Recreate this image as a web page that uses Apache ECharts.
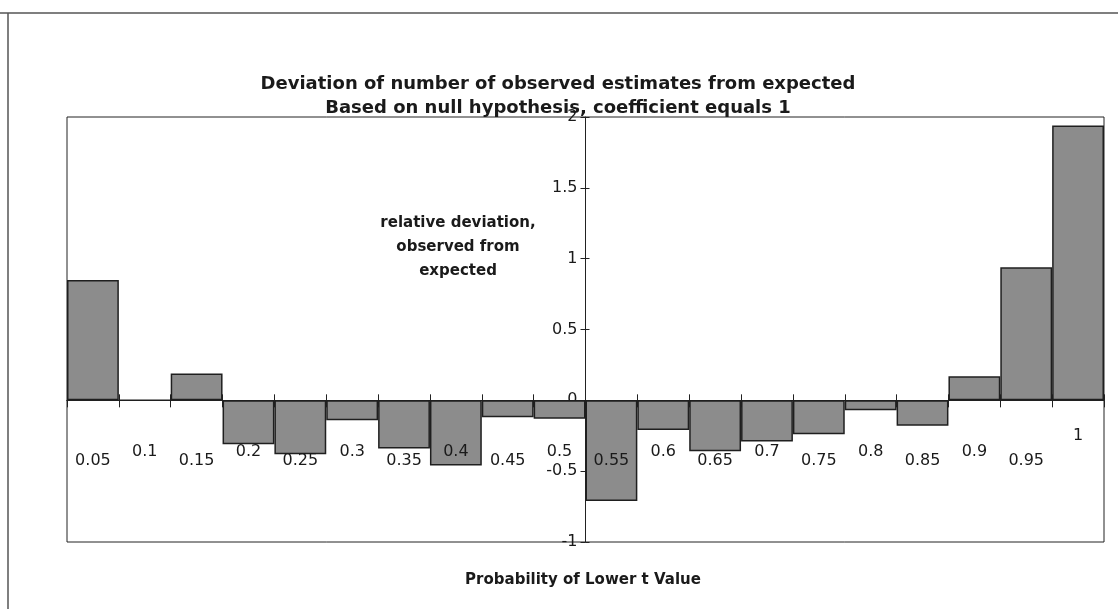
<!DOCTYPE html>
<html>
<head>
<meta charset="utf-8">
<script src="https://cdn.jsdelivr.net/npm/echarts@6/dist/echarts.min.js"></script>
<style>
html,body{margin:0;padding:0;background:#fff;}
#chart{width:1118px;height:609px;}
</style>
</head>
<body>
<div id="chart"></div>
<script>
const categories = ['0.05','0.1','0.15','0.2','0.25','0.3','0.35','0.4','0.45','0.5',
                    '0.55','0.6','0.65','0.7','0.75','0.8','0.85','0.9','0.95','1'];
const deviations = [0.85, 0, 0.19, -0.31, -0.38, -0.14, -0.34, -0.46, -0.12, -0.13,
                    -0.71, -0.21, -0.36, -0.29, -0.24, -0.07, -0.18, 0.17, 0.94, 1.94];
const yMin = -1, yMax = 2, yStep = 0.5;
const titleLines = ['Deviation of number of observed estimates from expected',
                    'Based on null hypothesis, coefficient equals 1'];
const yName = ['relative deviation,', 'observed from', 'expected'];
const xName = 'Probability of Lower t Value';

const FONT = '"DejaVu Sans", "Liberation Sans", Arial, sans-serif';
const chart = echarts.init(document.getElementById('chart'), null, {renderer: 'canvas'});

const gridLeft = 67, gridRight = 14, gridTop = 117, gridBottom = 67;
const gridW = 1118 - gridLeft - gridRight;
const axisShift = gridW / 2;

// category labels drawn at the zero line, staggered as in the source chart
const labelPoints = categories.map(function (c, i) {
  let dy = (i % 2 === 0) ? 61 : 52;
  if (i === categories.length - 1) dy = 36;
  return {value: [c, 0], label: {offset: [0, dy]}};
});

chart.setOption({
  animation: false,
  backgroundColor: '#fff',
  title: {
    text: titleLines.join('\n'),
    left: 553, top: 67, textAlign: 'center',
    textStyle: {fontFamily: FONT, fontSize: 18, fontWeight: 'bold', color: '#1a1a1a', lineHeight: 24}
  },
  grid: {left: gridLeft, right: gridRight, top: gridTop, bottom: gridBottom,
         show: true, borderColor: '#222', borderWidth: 1, backgroundColor: 'transparent'},
  xAxis: [{
    type: 'category', data: categories, position: 'bottom',
    axisLine: {onZero: true, onZeroAxisIndex: 0, lineStyle: {color: '#222', width: 1}},
    axisTick: {show: true, length: 7, lineStyle: {color: '#222'}},
    axisLabel: {show: false},
    splitLine: {show: false}
  }, {
    type: 'category', data: categories, position: 'top',
    axisLine: {onZero: true, onZeroAxisIndex: 1, lineStyle: {color: '#222', width: 1}},
    axisTick: {show: true, length: 6, lineStyle: {color: '#222'}},
    axisLabel: {show: false},
    splitLine: {show: false}
  }],
  yAxis: [{
    type: 'value', min: yMin, max: yMax, interval: yStep, position: 'left',
    offset: -axisShift,
    axisLine: {show: true, lineStyle: {color: '#222', width: 1}},
    axisTick: {show: true, length: 5, lineStyle: {color: '#222'}},
    axisLabel: {fontFamily: FONT, fontSize: 16, color: '#1a1a1a', margin: 8},
    splitLine: {show: false}
  }, {
    type: 'value', min: yMin, max: yMax, interval: yStep, position: 'right',
    offset: -(gridW - axisShift),
    axisLine: {show: false},
    axisTick: {show: true, length: 4, lineStyle: {color: '#222'}},
    axisLabel: {show: false},
    splitLine: {show: false}
  }],
  series: [{
    type: 'bar', data: deviations, xAxisIndex: 0, yAxisIndex: 0,
    barCategoryGap: '0%',
    itemStyle: {color: '#8c8c8c', borderColor: '#1f1f1f', borderWidth: 1.5},
    z: 1
  }, {
    type: 'scatter', data: labelPoints, xAxisIndex: 0, yAxisIndex: 0,
    symbolSize: 0, silent: true, z: 5,
    itemStyle: {color: '#1a1a1a'},
    label: {show: true, position: 'inside', formatter: function (p) { return p.value[0]; },
            fontFamily: FONT, fontSize: 16, color: '#1a1a1a', textBorderWidth: 0, opacity: 1}
  }],
  graphic: [
    {type: 'line', shape: {x1: 0, y1: 13, x2: 1118, y2: 13}, style: {stroke: '#555', lineWidth: 1.5}},
    {type: 'line', shape: {x1: 8, y1: 13, x2: 8, y2: 609}, style: {stroke: '#555', lineWidth: 1.5}},
    {type: 'text', x: 458, y: 211,
     style: {text: yName.join('\n'), align: 'center',
             font: 'bold 15px ' + FONT, fill: '#1a1a1a', lineHeight: 24}},
    {type: 'text', x: 583, y: 573,
     style: {text: xName, align: 'center', font: 'bold 15px ' + FONT, fill: '#1a1a1a'}}
  ]
});
</script>
</body>
</html>
